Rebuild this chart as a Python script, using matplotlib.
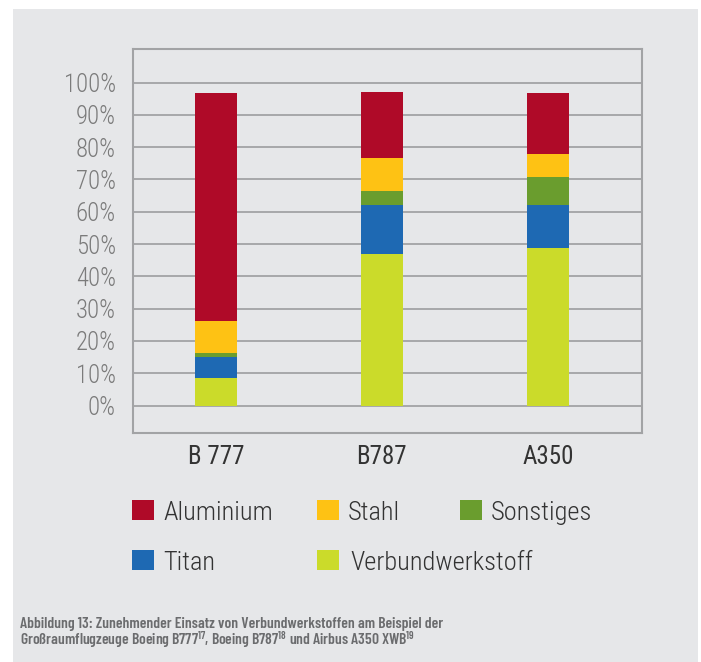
import matplotlib
matplotlib.use('Agg')
import matplotlib.pyplot as plt
from matplotlib import font_manager
from matplotlib.patches import Rectangle
import numpy as np

# ---------------- data ----------------
aircraft = ['B 777', 'B787', 'A350']
verbund = [8.6, 47.0, 48.8]
titan = [6.5, 15.1, 13.3]
sonstiges = [1.2, 4.4, 8.7]
stahl = [9.9, 10.2, 7.1]
aluminium = [70.6, 20.4, 18.9]
y_ticks = list(range(0, 101, 10))
y_tick_labels = [f'{v}%' for v in y_ticks]

stack_names = ['Verbundwerkstoff', 'Titan', 'Sonstiges', 'Stahl', 'Aluminium']
stack_values = [verbund, titan, sonstiges, stahl, aluminium]
colors = {
    'Aluminium': '#af0a28',
    'Stahl': '#fec214',
    'Sonstiges': '#6a9d2e',
    'Titan': '#1e69b3',
    'Verbundwerkstoff': '#cbdb2a',
}
legend_rows = [['Aluminium', 'Stahl', 'Sonstiges'], ['Titan', 'Verbundwerkstoff']]

caption_1 = 'Abbildung 13: Zunehmender Einsatz von Verbundwerkstoffen am Beispiel der'
caption_2 = 'Großraumflugzeuge Boeing B777$^{17}$, Boeing B787$^{18}$ und Airbus A350 XWB$^{19}$'

# ---------------- fonts ----------------
names = {f.name for f in font_manager.fontManager.ttflist}


def pick(cands):
    for c in cands:
        if c in names:
            return c
    return 'DejaVu Sans'


FAM = pick(['Roboto Condensed', 'Archivo Narrow', 'PT Sans Narrow', 'Barlow Semi Condensed'])
CAP = pick(['Barlow Condensed', 'Roboto Condensed', 'Archivo Narrow'])
plt.rcParams['font.family'] = [FAM, 'DejaVu Sans']
plt.rcParams['mathtext.fontset'] = 'custom'
for k in ['rm', 'it', 'bf', 'sf']:
    plt.rcParams[f'mathtext.{k}'] = f'{CAP}:semibold'

W, H = 701, 662
PANEL = '#e6e7e9'
GRID = '#a2a3a5'

fig = plt.figure(figsize=(W / 100, H / 100), dpi=100)
fig.patch.set_facecolor('white')


def fx(x):
    return x / W


def fy(y):
    return 1 - y / H


fig.patches.append(Rectangle((fx(13), 0), fx(698) - fx(13), fy(9), transform=fig.transFigure,
                             facecolor=PANEL, edgecolor='none', zorder=-5))

left, right, top, bottom = 132.5, 642, 49, 432.7
ax = fig.add_axes([fx(left), fy(bottom), fx(right) - fx(left), fy(top) - fy(bottom)])
ax.set_zorder(2)
ax.set_facecolor(PANEL)

x = np.arange(len(aircraft))
base = np.zeros(len(aircraft))
for name, vals in zip(stack_names, stack_values):
    ax.bar(x, vals, bottom=base, width=0.253, color=colors[name], zorder=3, linewidth=0)
    base = base + np.array(vals)

ax.set_xlim(-0.502, 2.566)
ax.set_ylim(-8.4, 110.4)
ax.set_yticks(y_ticks)
ax.set_yticklabels(y_tick_labels)
ax.set_xticks(x)
ax.set_xticklabels(aircraft)
ax.yaxis.grid(True, color=GRID, linewidth=1.3, zorder=1)
ax.set_axisbelow(True)
for s in ax.spines.values():
    s.set_color(GRID)
    s.set_linewidth(1.5)
ax.tick_params(axis='both', length=0)
ax.tick_params(axis='y', pad=12, labelsize=17.8, labelcolor='#7b7b7b')
ax.tick_params(axis='x', pad=9, labelsize=18, labelcolor='#333333')
for lab in ax.get_yticklabels():
    lab.set_fontweight('light')

# ---------------- legend ----------------
col_sq_x = [132, 317, 460]
col_tx_x = [163, 348, 490.5]
row_base = [520, 570]
for r, row in enumerate(legend_rows):
    for c, name in enumerate(row):
        fig.patches.append(Rectangle((fx(col_sq_x[c]), fy(row_base[r])), fx(22), 20 / H,
                                     transform=fig.transFigure, facecolor=colors[name],
                                     edgecolor='none', zorder=2))
        tx = col_tx_x[c] + (2.5 if name == 'Verbundwerkstoff' else 0)
        fig.text(fx(tx), fy(row_base[r]), name, fontsize=19.0, color='#333333',
                 ha='left', va='baseline', fontweight='light')

# ---------------- caption ----------------
fig.text(fx(19.5), fy(627.7), caption_1, fontsize=11.2, fontweight='semibold', color='#6b6c6e',
         ha='left', va='baseline', family=[CAP, 'DejaVu Sans'])
fig.text(fx(19.5), fy(644.5), caption_2, fontsize=11.2, fontweight='semibold', color='#6b6c6e',
         ha='left', va='baseline', family=[CAP, 'DejaVu Sans'])

fig.savefig('out.png', dpi=100, facecolor='white')
